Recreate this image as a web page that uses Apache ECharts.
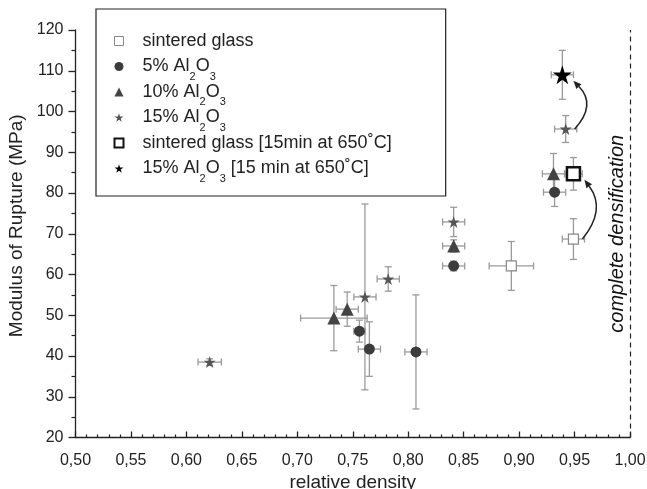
<!DOCTYPE html>
<html>
<head>
<meta charset="utf-8">
<script src="https://cdn.jsdelivr.net/npm/echarts@6/dist/echarts.min.js"></script>
<style>
html, body { margin: 0; padding: 0; background: #fff; }
#chart { width: 647px; height: 489px; }
</style>
</head>
<body>
<div id="chart"></div>
<script>
// legend order
const names = [
    'sintered glass',
    '5% Al2O3',
    '10% Al2O3',
    '15% Al2O3',
    'sintered glass [15min at 650˚C]',
    '15% Al2O3 [15 min at 650˚C]'
];

// sintered glass
const glassDensity = [0.893, 0.949];
const glassMor = [62.1, 68.7];
const glassDensityErr = [0.02, 0.01];
const glassMorErr = [6, 5];

// 5% Al2O3
const al5Density = [0.756, 0.765, 0.807, 0.841, 0.932];
const al5Mor = [46.1, 41.7, 41.0, 62.1, 80.2];
const al5DensityErr = [0.005, 0.01, 0.01, 0.01, 0.01];
const al5MorErr = [2.7, 6.7, 14, 1.2, 3.5];

// 10% Al2O3
const al10Density = [0.733, 0.745, 0.841, 0.931];
const al10Mor = [49.3, 51.5, 67.0, 84.7];
const al10DensityErr = [0.03, 0.01, 0.01, 0.01];
const al10MorErr = [8, 4.2, 1.5, 5];

// 15% Al2O3
const al15Density = [0.621, 0.761, 0.782, 0.841, 0.942];
const al15Mor = [38.5, 54.5, 58.9, 72.9, 95.7];
const al15DensityErr = [0.0105, 0.01, 0.01, 0.01, 0.01];
const al15MorErr = [0.8, 22.8, 3, 3.6, 3.3];

// 15 min at 650 C
const glassHtDensity = [0.949];
const glassHtMor = [84.7];
const glassHtDensityErr = [0.008];
const glassHtMorErr = [4];

const al15HtDensity = [0.939];
const al15HtMor = [109];
const al15HtDensityErr = [0.01];
const al15HtMorErr = [6];

const xTicks = { min: 0.5, max: 1.0, step: 0.05 };
const yTicks = { min: 20, max: 120, step: 10 };

const starPath = 'path://M0,-10L2.245,-3.09L9.51,-3.09L3.633,1.18L5.88,8.09L0,3.82L-5.88,8.09L-3.633,1.18L-9.51,-3.09L-2.245,-3.09Z';

function pts(xs, ys) {
    return xs.map((x, i) => [x, ys[i]]);
}
function errs(xs, ys, xe, ye) {
    return xs.map((x, i) => [x, ys[i], xe[i], ye[i]]);
}

const errorData = [].concat(
    errs(glassDensity, glassMor, glassDensityErr, glassMorErr),
    errs(al5Density, al5Mor, al5DensityErr, al5MorErr),
    errs(al10Density, al10Mor, al10DensityErr, al10MorErr),
    errs(al15Density, al15Mor, al15DensityErr, al15MorErr),
    errs(glassHtDensity, glassHtMor, glassHtDensityErr, glassHtMorErr),
    errs(al15HtDensity, al15HtMor, al15HtDensityErr, al15HtMorErr)
);

// arrows: from untreated sample to heat treated one
const arrowData = [
    [al15Density[4], al15Mor[4], al15HtDensity[0], al15HtMor[0]],
    [glassDensity[1], glassMor[1], glassHtDensity[0], glassHtMor[0]]
];

function renderErr(params, api) {
    const x = api.value(0), y = api.value(1), xe = api.value(2), ye = api.value(3);
    const l = api.coord([x - xe, y]);
    const r = api.coord([x + xe, y]);
    const t = api.coord([x, y + ye]);
    const b = api.coord([x, y - ye]);
    const cap = 3.5;
    const st = { stroke: '#9a9a9a', lineWidth: 1.3 };
    const line = (x1, y1, x2, y2) => ({ type: 'line', shape: { x1, y1, x2, y2 }, style: st });
    return {
        type: 'group',
        children: [
            line(l[0], l[1], r[0], r[1]),
            line(t[0], t[1], b[0], b[1]),
            line(l[0], l[1] - cap, l[0], l[1] + cap),
            line(r[0], r[1] - cap, r[0], r[1] + cap),
            line(t[0] - cap, t[1], t[0] + cap, t[1]),
            line(b[0] - cap, b[1], b[0] + cap, b[1])
        ]
    };
}

function renderArrow(params, api) {
    const p0 = api.coord([api.value(0), api.value(1)]);
    const p1 = api.coord([api.value(2), api.value(3)]);
    const s = [p0[0] + 9, p0[1]];
    const e = [p1[0] + 11, p1[1] + 6];
    const cp = [Math.max(s[0], e[0]) + 22, (s[1] + e[1]) / 2];
    const dx = e[0] - cp[0], dy = e[1] - cp[1];
    const len = Math.hypot(dx, dy);
    const ux = dx / len, uy = dy / len;
    const hl = 8, hw = 3.5;
    const base = [e[0] - ux * hl, e[1] - uy * hl];
    return {
        type: 'group',
        children: [
            {
                type: 'bezierCurve',
                shape: { x1: s[0], y1: s[1], x2: base[0], y2: base[1], cpx1: cp[0], cpy1: cp[1] },
                style: { stroke: '#222', lineWidth: 1.5, fill: null }
            },
            {
                type: 'polygon',
                shape: { points: [e, [base[0] - uy * hw, base[1] + ux * hw], [base[0] + uy * hw, base[1] - ux * hw]] },
                style: { fill: '#222' }
            }
        ]
    };
}

// subscripts for Al2O3; plain rows get an empty sub token so every row is equally tall
function legendText(name) {
    const txt = name.split('Al2O3').map(p => p ? '{a|' + p + '}' : '')
        .join('{a|Al}{s|2}{a|O}{s|3}');
    return name.indexOf('Al2O3') < 0 ? txt + '{s| }' : txt;
}

const font = 'Liberation Sans';

let myChart = echarts.init(document.getElementById('chart'));
myChart.setOption({
    animation: false,
    backgroundColor: '#fff',
    textStyle: { fontFamily: font },
    grid: { left: 75.5, right: 17, top: 30, bottom: 51.5, outerBoundsMode: 'none' },
    legend: {
        orient: 'vertical',
        left: 96,
        top: 9,
        padding: [23, 51, 12, 17.5],
        itemGap: 1,
        itemWidth: 9,
        itemHeight: 9,
        selectedMode: false,
        borderColor: '#222',
        borderWidth: 1.2,
        backgroundColor: '#fff',
        formatter: legendText,
        textStyle: {
            padding: [0, 0, 0, 14],
            rich: {
                a: { fontSize: 18, lineHeight: 31, color: '#222', fontFamily: font },
                s: { fontSize: 11, lineHeight: 31, verticalAlign: 'bottom', color: '#222', fontFamily: font }
            }
        },
        data: [
            { name: names[0], icon: 'rect', itemStyle: { color: '#fff', borderColor: '#888', borderWidth: 1 } },
            { name: names[1], icon: 'circle' },
            { name: names[2], icon: 'triangle' },
            { name: names[3], icon: starPath },
            { name: names[4], icon: 'rect', itemStyle: { color: '#fff', borderColor: '#111', borderWidth: 2 } },
            { name: names[5], icon: starPath }
        ]
    },
    xAxis: {
        type: 'value',
        min: xTicks.min,
        max: xTicks.max,
        interval: xTicks.step,
        name: 'relative density',
        nameLocation: 'middle',
        nameGap: 22,
        nameTextStyle: { fontSize: 19, color: '#222', fontFamily: font },
        axisLine: { lineStyle: { color: '#222', width: 1.3 } },
        axisTick: { inside: true, length: 6, lineStyle: { color: '#222', width: 1.3 } },
        minorTick: { show: true, splitNumber: 5, length: 3, lineStyle: { color: '#222', width: 1.2 } },
        axisLabel: {
            fontSize: 16,
            color: '#222',
            margin: 15,
            formatter: v => v.toFixed(2).replace('.', ',')
        },
        splitLine: { show: false }
    },
    yAxis: {
        type: 'value',
        min: yTicks.min,
        max: yTicks.max,
        interval: yTicks.step,
        name: 'Modulus of Rupture (MPa)',
        nameLocation: 'middle',
        nameGap: 41,
        nameTextStyle: { fontSize: 19, color: '#222', fontFamily: font, padding: [0, 0, 0, 16] },
        axisLine: { lineStyle: { color: '#222', width: 1.3 } },
        axisTick: { inside: false, length: 7, lineStyle: { color: '#222', width: 1.3 } },
        minorTick: { show: true, splitNumber: 2, length: 4, lineStyle: { color: '#222', width: 1.2 } },
        axisLabel: { fontSize: 16, color: '#222', margin: 12 },
        splitLine: { show: false }
    },
    series: [
        {
            name: 'errors',
            type: 'custom',
            renderItem: renderErr,
            encode: { x: 0, y: 1 },
            data: errorData,
            z: 1,
            silent: true
        },
        {
            name: 'arrows',
            type: 'custom',
            renderItem: renderArrow,
            encode: { x: [0, 2], y: [1, 3] },
            data: arrowData,
            z: 1,
            silent: true
        },
        {
            name: names[0],
            type: 'scatter',
            symbol: 'rect',
            symbolSize: 10,
            itemStyle: { color: '#fff', borderColor: '#888', borderWidth: 1.2, opacity: 1 },
            data: pts(glassDensity, glassMor),
            z: 3,
            markLine: {
                silent: true,
                symbol: 'none',
                lineStyle: { color: '#222', type: [5, 4], width: 1.2 },
                label: {
                    show: true,
                    formatter: 'complete densification',
                    position: 'insideMiddleTop',
                    distance: 3,
                    fontStyle: 'italic',
                    fontSize: 20,
                    color: '#111',
                    fontFamily: font
                },
                data: [{ xAxis: 1.0 }]
            }
        },
        {
            name: names[1],
            type: 'scatter',
            symbol: 'circle',
            symbolSize: 11,
            itemStyle: { color: '#3c3c3c', opacity: 1 },
            data: pts(al5Density, al5Mor),
            z: 3
        },
        {
            name: names[2],
            type: 'scatter',
            symbol: 'triangle',
            symbolSize: 13,
            itemStyle: { color: '#444', opacity: 1 },
            data: pts(al10Density, al10Mor),
            z: 3
        },
        {
            name: names[3],
            type: 'scatter',
            symbol: starPath,
            symbolSize: 12,
            itemStyle: { color: '#555', opacity: 1 },
            data: pts(al15Density, al15Mor),
            z: 3
        },
        {
            name: names[4],
            type: 'scatter',
            symbol: 'rect',
            symbolSize: 13,
            itemStyle: { color: '#fff', borderColor: '#111', borderWidth: 2.5, opacity: 1 },
            data: pts(glassHtDensity, glassHtMor),
            z: 3
        },
        {
            name: names[5],
            type: 'scatter',
            symbol: starPath,
            symbolSize: 19,
            itemStyle: { color: '#000', opacity: 1 },
            data: pts(al15HtDensity, al15HtMor),
            z: 3
        }
    ]
});
</script>
</body>
</html>
